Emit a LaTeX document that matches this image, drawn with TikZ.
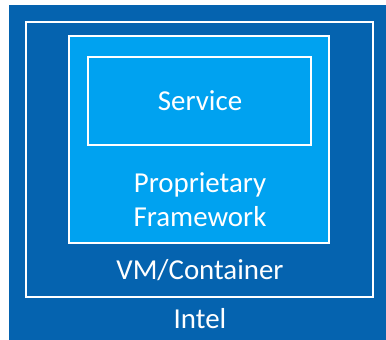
\documentclass[tikz,border=0pt]{standalone}
\usepackage{fontspec}
\setmainfont{Carlito}
\definecolor{hostblue}{HTML}{0563AF}
\definecolor{fwblue}{HTML}{00A2F0}
\tikzset{
  layer/.style = {rectangle, inner sep=0pt, draw=white, line width=1.6pt},
  lbl/.style = {align=center, text=white, font=\fontsize{29}{34}\selectfont, inner sep=0pt}
}

\begin{document}
\begin{tikzpicture}[x=1bp, y=-1bp]
	\useasboundingbox (0,0) rectangle (386,340);
	\node [rectangle, inner sep=0pt, fill=hostblue, minimum width=377bp, minimum height=335bp] (intelbox) at (197.5,172.5) {};
	\node [layer, minimum width=347bp, minimum height=275bp] (vmbox) at (199.5,159.5) {};
	\node [layer, fill=fwblue, minimum width=260bp, minimum height=207bp] (fwbox) at (199,139.5) {};
	\node [layer, minimum width=223bp, minimum height=88bp] (svcbox) at (199.5,101) {};
	% labels
	\node [lbl] (svc) at (200,101) {Service};
	\node [lbl] (fw) at (200,200) {Proprietary\\Framework};
	\node [lbl] (vm) at (200,270) {VM/Container};
	\node [lbl] (intel) at (200,319) {Intel};
\end{tikzpicture}
\end{document}
